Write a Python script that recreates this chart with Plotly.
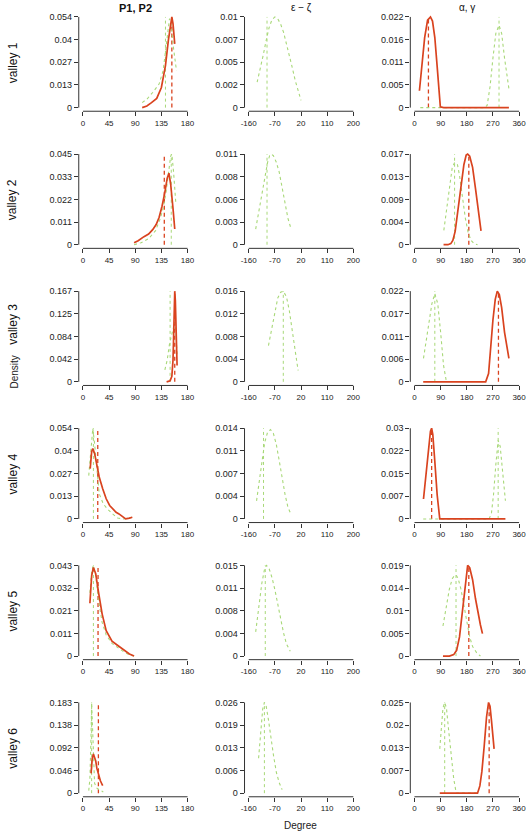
import plotly.graph_objects as go

# ---------------- data ----------------
ROW_LABELS = ["valley 1", "valley 2", "valley 3", "valley 4", "valley 5", "valley 6"]
COL_TITLES = ["<b>P1, P2</b>", "ε − ζ", "α, γ"]
X_TICKS = [[0, 45, 90, 135, 180], [-160, -70, 20, 110, 200], [0, 90, 180, 270, 360]]

# y tick labels (top value = panel maximum)
Y_TICK_TEXT = [
    [["0", "0.013", "0.027", "0.04", "0.054"], ["0", "0.002", "0.005", "0.007", "0.01"], ["0", "0.005", "0.011", "0.016", "0.022"]],
    [["0", "0.011", "0.022", "0.033", "0.045"], ["0", "0.003", "0.006", "0.008", "0.011"], ["0", "0.004", "0.009", "0.013", "0.017"]],
    [["0", "0.042", "0.084", "0.125", "0.167"], ["0", "0.004", "0.008", "0.012", "0.016"], ["0", "0.006", "0.011", "0.017", "0.022"]],
    [["0", "0.013", "0.027", "0.04", "0.054"], ["0", "0.004", "0.007", "0.011", "0.014"], ["0", "0.007", "0.015", "0.022", "0.03"]],
    [["0", "0.011", "0.021", "0.032", "0.043"], ["0", "0.004", "0.008", "0.011", "0.015"], ["0", "0.005", "0.01", "0.014", "0.019"]],
    [["0", "0.046", "0.092", "0.138", "0.183"], ["0", "0.006", "0.013", "0.019", "0.026"], ["0", "0.007", "0.013", "0.02", "0.025"]],
]
Y_MAX = [
    [0.054, 0.010, 0.022],
    [0.045, 0.011, 0.017],
    [0.167, 0.016, 0.022],
    [0.054, 0.014, 0.030],
    [0.043, 0.015, 0.019],
    [0.183, 0.026, 0.025],
]

# ---- column 1: P1 (green) / P2 (red) ----
p_green_x = [
    [102, 110, 120, 131, 138, 143, 147, 149, 152, 156, 161],
    [88, 100, 113, 125, 133, 138, 143, 148, 151, 153, 156, 160],
    [141, 145, 149, 153, 156, 158, 160, 162],
    [10, 14, 17, 20, 24, 28, 35, 42, 51, 60, 70, 85],
    [12, 15, 18, 22, 27, 33, 40, 50, 60, 70, 80, 88],
    [10, 12, 14, 15, 16, 18, 20, 24, 28, 33, 35],
]
p_green_y = [
    [0.003, 0.005, 0.009, 0.014, 0.022, 0.035, 0.048, 0.053, 0.049, 0.035, 0.022],
    [0.0, 0.001, 0.003, 0.007, 0.013, 0.018, 0.026, 0.038, 0.044, 0.045, 0.036, 0.020],
    [0.022, 0.040, 0.070, 0.088, 0.100, 0.110, 0.090, 0.050],
    [0.0258, 0.045, 0.054, 0.045, 0.028, 0.015, 0.009, 0.006, 0.003, 0.0005, 0.0, 0.001],
    [0.030, 0.040, 0.043, 0.038, 0.026, 0.016, 0.010, 0.006, 0.004, 0.002, 0.0005, 0.0],
    [0.005, 0.030, 0.120, 0.183, 0.150, 0.060, 0.020, 0.010, 0.008, 0.004, 0.002],
]
p_red_x = [
    [102, 110, 118, 127, 135, 142, 147, 151, 153, 155, 158],
    [88, 95, 105, 113, 120, 126, 131, 136, 141, 145, 148, 151, 155, 158],
    [144, 150, 153, 155, 156, 157, 158, 159, 160, 161, 162],
    [12.5, 15, 17, 20, 24, 28, 34, 40, 46, 51, 57, 62, 68, 73.5, 80, 85],
    [12, 15, 18, 22, 27, 33, 40, 50, 60, 70, 80, 88],
    [14, 16, 18, 20, 22, 24, 26, 28, 30, 32, 34],
]
p_red_y = [
    [0.0, 0.001, 0.003, 0.0055, 0.012, 0.025, 0.040, 0.051, 0.054, 0.050, 0.038],
    [0.001, 0.002, 0.004, 0.0053, 0.0075, 0.010, 0.0135, 0.019, 0.026, 0.033, 0.0355, 0.030, 0.018, 0.0078],
    [0.0, 0.002, 0.010, 0.040, 0.080, 0.130, 0.167, 0.150, 0.110, 0.060, 0.030],
    [0.030, 0.040, 0.042, 0.039, 0.032, 0.025, 0.018, 0.012, 0.008, 0.006, 0.004, 0.003, 0.0015, 0.0, 0.0005, 0.001],
    [0.025, 0.038, 0.042, 0.039, 0.030, 0.020, 0.012, 0.007, 0.005, 0.003, 0.001, 0.0],
    [0.040, 0.070, 0.079, 0.072, 0.065, 0.050, 0.040, 0.030, 0.025, 0.020, 0.015],
]
p_green_mark = [142, 152, 150, 18, 18, 15]
p_red_mark = [153, 140, 158, 25.5, 26, 26.6]

# ---- column 2: epsilon - zeta (green only) ----
ez_x = [
    [-131, -120, -110, -100, -90, -80, -70, -60, -50, -40, -30, -20, -10, 0, 10, 20],
    [-136, -125, -115, -105, -95, -88, -82, -75, -65, -55, -45, -35, -25, -14],
    [-92, -80, -70, -60, -50, -41, -30, -20, -10, 0, 10],
    [-133, -125, -115, -105, -95, -85, -75, -65, -55, -45, -35, -25, -17],
    [-136, -125, -115, -105, -99, -90, -80, -70, -60, -50, -40, -30, -17],
    [-126, -118, -112, -106, -100, -92, -84, -75, -65, -55, -45],
]
ez_y = [
    [0.0028, 0.0042, 0.0058, 0.0074, 0.0088, 0.0097, 0.0100, 0.0098, 0.0092, 0.0083, 0.0071, 0.0058, 0.0044, 0.0030, 0.0018, 0.0008],
    [0.0019, 0.0040, 0.0062, 0.0083, 0.0100, 0.0108, 0.0110, 0.0108, 0.0100, 0.0088, 0.0070, 0.0050, 0.0032, 0.0019],
    [0.0064, 0.0095, 0.0125, 0.0148, 0.0158, 0.0160, 0.0150, 0.0125, 0.0090, 0.0050, 0.0020],
    [0.0028, 0.0055, 0.0090, 0.0118, 0.0134, 0.0138, 0.0132, 0.0115, 0.0090, 0.0062, 0.0038, 0.0018, 0.0010],
    [0.0040, 0.0080, 0.0120, 0.0145, 0.0150, 0.0145, 0.0130, 0.0110, 0.0085, 0.0060, 0.0038, 0.0020, 0.0008],
    [0.010, 0.018, 0.024, 0.026, 0.025, 0.021, 0.016, 0.011, 0.006, 0.003, 0.001],
]
ez_mark = [-97, -97, -41, -109, -103, -106]

# ---- column 3: alpha (green) / gamma (red) ----
ag_green_x = [
    [20, 100, 200, 240, 250, 260, 270, 280, 291, 300, 310, 318, 325],
    [101, 110, 120, 130, 137, 142, 148, 155, 165, 175, 185, 195, 205, 217],
    [31, 40, 50, 60, 70, 80, 90, 100, 110],
    [30, 150, 257, 265, 272, 280, 288, 295, 302, 308, 313],
    [98, 110, 120, 130, 137, 143, 150, 160, 170, 180, 190, 200, 215, 227],
    [87, 93, 98, 104, 110, 118, 126, 135, 143.7, 180, 217],
]
ag_green_y = [
    [0.0, 0.0, 0.0, 0.0, 0.0005, 0.005, 0.012, 0.018, 0.020, 0.018, 0.012, 0.0075, 0.0046],
    [0.0027, 0.0065, 0.0110, 0.0145, 0.0153, 0.0154, 0.0150, 0.0130, 0.0090, 0.0050, 0.0022, 0.0008, 0.0002, 0.0],
    [0.0057, 0.0095, 0.0145, 0.0190, 0.0214, 0.0190, 0.0120, 0.0040, 0.0],
    [0.0, 0.0, 0.0, 0.002, 0.008, 0.018, 0.026, 0.024, 0.016, 0.009, 0.006],
    [0.0063, 0.0105, 0.0140, 0.0162, 0.0168, 0.0170, 0.0163, 0.0140, 0.0105, 0.0070, 0.0040, 0.0020, 0.0006, 0.0],
    [0.0122, 0.019, 0.0235, 0.025, 0.0235, 0.017, 0.010, 0.004, 0.0, 0.0, 0.0],
]
ag_red_x = [
    [17, 25, 35, 45, 55, 62, 70, 78, 85, 89, 100, 200, 325],
    [100, 115, 125, 132, 140, 150, 160, 170, 178, 183, 190, 200, 210, 220, 229],
    [30, 100, 200, 245, 255, 262, 270, 278, 285, 292, 300, 310, 318, 325],
    [31, 40, 50, 55, 59, 63, 70, 78, 87, 100, 200, 313],
    [98, 120, 135, 145, 155, 165, 175, 183, 190, 200, 210, 220, 227, 234],
    [87, 150, 200, 217, 225, 232, 240, 248, 255, 260, 265, 270, 274],
]
ag_red_y = [
    [0.0041, 0.010, 0.017, 0.0212, 0.022, 0.021, 0.017, 0.010, 0.003, 0.0002, 0.0, 0.0, 0.0],
    [0.0, 0.0, 0.0002, 0.0008, 0.0025, 0.0065, 0.0110, 0.0150, 0.0168, 0.0170, 0.0166, 0.0145, 0.0105, 0.0060, 0.0026],
    [0.0, 0.0, 0.0, 0.0, 0.002, 0.0085, 0.015, 0.020, 0.022, 0.0212, 0.018, 0.012, 0.008, 0.0057],
    [0.0066, 0.015, 0.026, 0.029, 0.030, 0.028, 0.019, 0.008, 0.0, 0.0, 0.0, 0.0],
    [0.0, 0.0, 0.0003, 0.0012, 0.0040, 0.0090, 0.0150, 0.0190, 0.0185, 0.0160, 0.0120, 0.0085, 0.0065, 0.0047],
    [0.0, 0.0, 0.0, 0.0, 0.002, 0.006, 0.013, 0.021, 0.025, 0.024, 0.020, 0.015, 0.0122],
]
ag_green_mark = [291, 138, 70, 288, 143, 104]
ag_red_mark = [48, 187, 289, 59, 187, 257]

# ---------------- styling / layout ----------------
W, H = 528, 836
RED = "#D9431F"
GREEN = "#A8D878"
FONT = "Liberation Sans, Arial, sans-serif"

fig = go.Figure()
layout = dict(width=W, height=H, margin=dict(l=0, r=0, t=0, b=0), autosize=False,
              paper_bgcolor="white", plot_bgcolor="rgba(0,0,0,0)", showlegend=False,
              font=dict(family=FONT, color="#222"))
shapes = []
annotations = []

col_left_px = [80, 248, 416]
col_w_px = 106
row_top_px = [16 + 137.6 * r for r in range(6)]
row_h_px = 91
row_label_y = [row_top_px[r] + row_h_px / 2 for r in range(6)]
row_label_y[2] = 324

green_x_cols = [p_green_x, ez_x, ag_green_x]
green_y_cols = [p_green_y, ez_y, ag_green_y]
red_x_cols = [p_red_x, None, ag_red_x]
red_y_cols = [p_red_y, None, ag_red_y]
green_mark_cols = [p_green_mark, ez_mark, ag_green_mark]
red_mark_cols = [p_red_mark, None, ag_red_mark]

for r in range(6):
    for c in range(3):
        k = r * 3 + c + 1
        xa = "x" if k == 1 else f"x{k}"
        ya = "y" if k == 1 else f"y{k}"
        xt = X_TICKS[c]
        span = xt[-1] - xt[0]
        ymax = Y_MAX[r][c]
        ext_px_x = 0.04 * col_w_px
        ext_px_y = 0.04 * row_h_px
        L = col_left_px[c] - ext_px_x
        R = col_left_px[c] + col_w_px + ext_px_x
        T = row_top_px[r] - ext_px_y
        B = row_top_px[r] + row_h_px + ext_px_y
        ax_common = dict(showgrid=False, zeroline=False, showline=False, ticks="outside",
                         ticklen=4, tickwidth=1, tickcolor="#333", fixedrange=True,
                         ticklabeloverflow="allow")
        layout["xaxis" if k == 1 else f"xaxis{k}"] = dict(
            domain=[L / W, R / W], anchor=ya,
            range=[xt[0] - 0.04 * span, xt[-1] + 0.04 * span],
            tickmode="array", tickvals=xt, ticktext=[str(v) for v in xt],
            tickfont=dict(size=8, family=FONT, color="#222"), **ax_common)
        yvals = [ymax * i / 4 for i in range(5)]
        layout["yaxis" if k == 1 else f"yaxis{k}"] = dict(
            domain=[1 - B / H, 1 - T / H], anchor=xa,
            range=[-0.04 * ymax, 1.04 * ymax],
            tickmode="array", tickvals=yvals, ticktext=Y_TICK_TEXT[r][c],
            tickfont=dict(size=9, family=FONT, color="#222"), **ax_common)
        # R-style axis lines from first to last tick
        shapes.append(dict(type="line", xref=xa, yref=f"{ya} domain", x0=xt[0], x1=xt[-1],
                           y0=0, y1=0, line=dict(color="#333", width=1)))
        shapes.append(dict(type="line", xref=f"{xa} domain", yref=ya, x0=0, x1=0,
                           y0=0, y1=ymax, line=dict(color="#333", width=1)))
        # vertical marker lines
        gm = green_mark_cols[c][r]
        fig.add_trace(go.Scatter(x=[gm, gm], y=[0, ymax], mode="lines", xaxis=xa, yaxis=ya,
                                 line=dict(color=GREEN, width=1, dash="dot"), hoverinfo="skip"))
        if red_mark_cols[c] is not None:
            rm = red_mark_cols[c][r]
            fig.add_trace(go.Scatter(x=[rm, rm], y=[0, ymax], mode="lines", xaxis=xa, yaxis=ya,
                                     line=dict(color=RED, width=1.3, dash="4px,3px"), hoverinfo="skip"))
        # density curves
        fig.add_trace(go.Scatter(x=green_x_cols[c][r], y=green_y_cols[c][r], mode="lines",
                                 xaxis=xa, yaxis=ya, line=dict(color=GREEN, width=1.1, dash="dot")))
        if red_x_cols[c] is not None:
            fig.add_trace(go.Scatter(x=red_x_cols[c][r], y=red_y_cols[c][r], mode="lines",
                                     xaxis=xa, yaxis=ya, line=dict(color=RED, width=1.7)))

# column titles
for c, t in enumerate(COL_TITLES):
    annotations.append(dict(text=t, x=(col_left_px[c] + col_w_px / 2) / W, y=1 - 7 / H,
                            xref="paper", yref="paper", showarrow=False,
                            xanchor="center", yanchor="middle",
                            font=dict(size=11 if c == 0 else 10, family=FONT, color="#111")))
# row labels
for r, t in enumerate(ROW_LABELS):
    annotations.append(dict(text=t, x=9 / W, y=1 - row_label_y[r] / H,
                            xref="paper", yref="paper", showarrow=False, textangle=-90,
                            xanchor="center", yanchor="middle",
                            font=dict(size=12, family=FONT, color="#111")))
annotations.append(dict(text="Density", x=11 / W, y=1 - 372 / H, xref="paper", yref="paper",
                        showarrow=False, textangle=-90, xanchor="center", yanchor="middle",
                        font=dict(size=10, family=FONT, color="#222")))
annotations.append(dict(text="Degree", x=300 / W, y=1 - 827 / H, xref="paper", yref="paper",
                        showarrow=False, xanchor="center", yanchor="middle",
                        font=dict(size=10, family=FONT, color="#222")))

layout["shapes"] = shapes
layout["annotations"] = annotations
fig.update_layout(**layout)
fig.write_html("out.html", config={"displayModeBar": False},
               post_script="document.body.style.margin='0px';document.body.style.overflow='hidden';")
